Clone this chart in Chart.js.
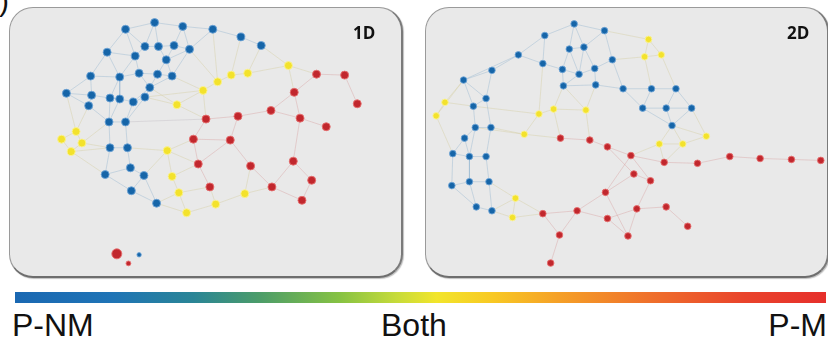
<!DOCTYPE html>
<html>
<head>
<meta charset="utf-8">
<script src="https://cdn.jsdelivr.net/npm/chart.js@4.4.1/dist/chart.umd.min.js"></script>
<style>
  html, body { margin: 0; padding: 0; background: #ffffff; }
  body { width: 828px; height: 339px; position: relative; overflow: hidden;
         font-family: "Liberation Sans", Arial, sans-serif; }
  .panel { position: absolute; box-sizing: border-box; background: #e9e9e9;
           border: 1px solid #9a9a9a; border-bottom: 2px solid #6e6e6e; border-right: 2px solid #7a7a7a;
           border-radius: 24px; box-shadow: 1px 1px 1px rgba(0,0,0,0.25); }
  canvas.net { position: absolute; }
  .tag { position: absolute; font-family: "Open Sans", "Liberation Sans", sans-serif; font-weight: bold;
         font-size: 17px; line-height: 17px; color: #111; }
  .scale { position: absolute; left: 15px; top: 292px; width: 811px; height: 11px;
           background: linear-gradient(to right, #1a68b2 0%, #1f74b6 12%, #2a8596 22%, #4b9c6a 30%,
             #86c243 40%, #c6db3a 47%, #f2e52b 52%, #f8c824 59%, #f5a027 67%, #ef712b 78%,
             #e9432b 90%, #e62f2b 100%); }
  .lab { position: absolute; top: 309px; font-size: 32px; line-height: 32px; color: #111; }
  .paren { position: absolute; left: -1px; top: -14px; font-size: 30px; line-height: 30px; color: #111; }
</style>
</head>
<body>
<div class="paren">)</div>
<div class="panel" id="box1" style="left:9px; top:7px; width:394px; height:271px;"></div>
<div class="panel" id="box2" style="left:425px; top:7px; width:404px; height:271px;"></div>
<canvas class="net" id="net1" width="394" height="271" style="left:9px; top:7px;"></canvas>
<canvas class="net" id="net2" width="404" height="271" style="left:425px; top:7px;"></canvas>
<div class="tag" style="left:353px; top:24px;">1D</div>
<div class="tag" style="left:787px; top:24px;">2D</div>
<div class="scale"></div>
<div class="lab" style="left:12px;">P-NM</div>
<div class="lab" style="left:381px;">Both</div>
<div class="lab" style="right:1px;">P-M</div>

<script>
// ---- 1D network: node layout (x, y), class (B = P-NM, Y = both, R = P-M) ----
const nodes1X = [153,123,182,213,242,263,143,157,173,189,104,133,165,137,156,171,87,117,148,62,
  88,107,117,143,131,85,106,123,107,125,128,102,142,129,155,137,
  203,176,72,57,78,67,291,232,249,218,166,171,178,186,216,246,
  206,193,320,349,362,297,273,303,330,239,231,198,252,296,315,210,274,305,114,126];
const nodes1Y = [17,24,21,24,32,41,42,42,41,45,48,52,56,70,71,73,73,74,85,91,
  93,96,97,95,100,104,121,121,148,148,169,176,177,193,206,260,
  88,103,131,139,143,152,62,72,70,79,151,178,195,216,207,196,
  118,139,71,72,102,90,109,117,126,115,140,165,167,162,182,189,189,203,259,269];
const nodes1Class = "BBBBBBBBBBBBBBBBBBBBBBBBBBBBBBBBBBBBYYYYYYYYYYYYYYYYRRRRRRRRRRRRRRRRRRRR";
const edges1 = [
  [0,1],[0,2],[0,6],[0,7],[1,6],[1,10],[1,11],[2,3],[2,8],[2,9],[3,4],[3,9],[4,5],[6,7],[6,11],
  [7,8],[7,12],[8,9],[8,12],[9,12],[9,15],[10,11],[10,16],[10,17],[11,13],[11,17],[12,14],[12,15],
  [13,14],[13,17],[13,18],[14,15],[14,18],[15,18],[16,17],[16,19],[16,20],[17,21],[17,22],[18,23],
  [18,24],[19,20],[19,25],[20,21],[20,25],[21,22],[21,26],[22,24],[22,26],[23,24],[23,27],[24,27],
  [25,26],[25,38],[26,27],[26,28],[26,40],[27,29],[28,29],[28,40],[28,31],[29,30],[29,46],[30,31],
  [30,32],[31,33],[32,33],[32,34],[32,46],[33,34],[34,48],[34,49],
  [19,38],[38,39],[38,40],[39,41],[40,41],[41,31],[41,28],
  [36,37],[36,45],[36,15],[36,52],[37,18],[37,23],[37,52],[43,44],[43,45],[44,42],[43,4],[44,5],
  [45,9],[42,5],[42,54],[42,57],[45,3],
  [46,47],[47,48],[48,49],[46,53],[47,63],[49,50],[50,51],[51,64],[48,67],[50,67],[51,68],
  [52,53],[52,61],[53,62],[53,63],[61,58],[61,62],[58,57],[57,54],[57,59],[54,55],[55,56],[59,60],
  [58,59],[62,64],[63,67],[64,68],[68,65],[65,66],[66,69],[65,59],[62,63],[63,46],[69,68],[27,52],[23,36]
];

// ---- 2D network ----
const nodes2X = [573,604,543,568,583,516,612,541,489,561,578,594,460,562,595,623,652,677,483,470,
  643,667,693,673,472,488,461,449,466,483,448,466,486,473,489,
  649,645,662,441,432,537,552,585,522,708,660,684,513,510,
  559,589,607,631,665,699,732,763,795,825,634,651,605,541,576,607,558,628,637,667,689,549];
const nodes2Y = [20,27,32,46,44,52,57,61,68,67,72,66,78,84,83,87,87,87,97,105,
  107,107,107,125,127,127,138,154,157,157,187,183,183,209,213,
  36,54,52,101,115,113,108,109,134,136,144,144,200,220,
  138,140,147,156,163,164,157,159,160,161,175,182,194,216,213,221,238,239,211,209,229,267];
const nodes2Class = "BBBBBBBBBBBBBBBBBBBBBBBBBBBBBBBBBBBYYYYYYYYYYYYYYRRRRRRRRRRRRRRRRRRRRRR";
const edges2 = [
  [0,1],[0,2],[0,3],[0,4],[1,4],[1,6],[2,5],[2,7],[3,4],[3,9],[3,10],[4,10],[4,11],[6,11],[6,15],
  [5,7],[5,8],[7,9],[9,10],[10,11],[9,13],[10,13],[11,14],[13,14],[14,15],[8,12],[8,18],[12,18],
  [12,19],[12,38],[18,19],[19,24],[18,25],[24,25],[24,26],[26,27],[26,28],[27,28],[28,29],[25,29],
  [24,28],[27,30],[28,31],[29,32],[30,31],[31,32],[30,33],[31,33],[33,34],[32,34],[38,39],[39,27],
  [38,19],[34,48],[34,47],[32,47],[47,48],[48,62],[47,62],[62,63],[62,65],[63,64],[63,61],[65,70],
  [64,66],[66,67],[67,68],[68,69],[64,67],[61,52],[61,59],[59,60],[60,67],[60,52],[52,51],[51,50],
  [50,49],[49,43],[43,40],[40,41],[41,42],[42,50],[41,13],[40,7],[43,25],[49,41],[52,45],[52,53],
  [45,53],[46,53],[45,46],[46,44],[53,54],[54,55],[55,56],[56,57],[57,58],[15,16],[16,17],[16,20],
  [17,21],[20,21],[21,22],[17,22],[20,23],[21,23],[22,23],[23,44],[23,46],[22,44],[35,36],[35,37],
  [36,37],[36,16],[37,17],[35,1],[36,6],[15,20],[23,45],[12,39],[5,12],[14,42],[42,13],[59,51],
  [43,24],[40,19],[65,63],[66,61]
];

// ---- styling ----
const nodeFill   = { B: '#1665a8', Y: '#f3e22c', R: '#c1272d' };
const nodeBorder = { B: 'rgba(110,165,215,0.85)', Y: 'rgba(250,242,150,0.9)', R: 'rgba(230,110,110,0.9)' };

function edgeColor(a, b) {
  const k = [a, b].sort().join('');
  if (k === 'BB') return 'rgba(140,175,205,0.38)';
  if (k === 'RR') return 'rgba(214,150,150,0.36)';
  if (k === 'BR') return 'rgba(180,172,182,0.3)';
  return 'rgba(212,204,160,0.42)';
}

function drawNetwork(canvasId, xs, ys, cls, edges, xRange, yRange, radius, radiusOverride) {
  const datasets = [];
  ['B', 'Y', 'R'].forEach(c => {
    const pts = [], rad = [];
    xs.forEach((x, i) => {
      if (cls[i] === c) {
        pts.push({ x: x, y: ys[i] });
        rad.push(radiusOverride[i] !== undefined ? radiusOverride[i] : radius);
      }
    });
    datasets.push({
      type: 'scatter', data: pts, order: 0,
      backgroundColor: nodeFill[c], borderColor: nodeBorder[c], borderWidth: 1,
      pointRadius: rad, pointHoverRadius: rad, clip: false
    });
  });
  edges.forEach(([a, b]) => {
    datasets.push({
      type: 'line', order: 1,
      data: [{ x: xs[a], y: ys[a] }, { x: xs[b], y: ys[b] }],
      borderColor: edgeColor(cls[a], cls[b]), borderWidth: 1,
      pointRadius: 0, fill: false, tension: 0, clip: false
    });
  });
  new Chart(document.getElementById(canvasId), {
    type: 'scatter',
    data: { datasets: datasets },
    options: {
      responsive: false, animation: false, devicePixelRatio: 1,
      layout: { padding: 0 },
      plugins: { legend: { display: false }, tooltip: { enabled: false } },
      events: [],
      scales: {
        x: { type: 'linear', min: xRange[0], max: xRange[1], display: false },
        y: { type: 'linear', min: yRange[0], max: yRange[1], reverse: true, display: false }
      }
    }
  });
}

drawNetwork('net1', nodes1X, nodes1Y, nodes1Class, edges1, [9, 403], [7, 278], 4,
  { 35: 2.2, 70: 5, 71: 2.4 });
drawNetwork('net2', nodes2X, nodes2Y, nodes2Class, edges2, [425, 829], [7, 278], 3.3, {});
</script>
</body>
</html>
